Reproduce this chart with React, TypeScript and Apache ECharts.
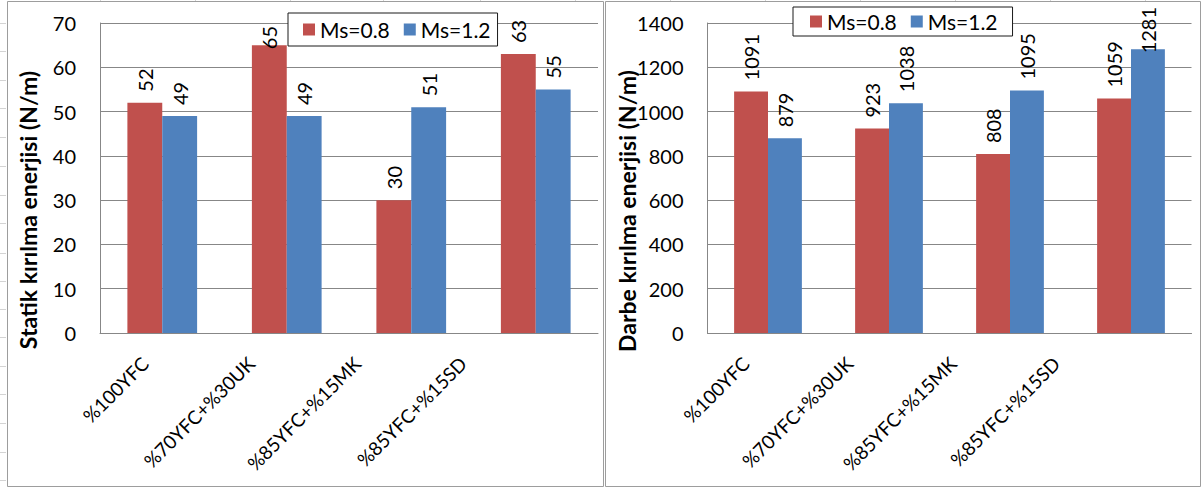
import React, { useEffect, useRef } from "react";
import * as echarts from "echarts";

// Mix designs on the category axis
const categories = ["%100YFC", "%70YFC+%30UK", "%85YFC+%15MK", "%85YFC+%15SD"];
const seriesNames = ["Ms=0.8", "Ms=1.2"];

// Static fracture energy (N/m)
const staticMs08 = [52, 65, 30, 63];
const staticMs12 = [49, 49, 51, 55];

// Impact fracture energy (N/m)
const impactMs08 = [1091, 923, 808, 1059];
const impactMs12 = [879, 1038, 1095, 1281];

// Value axis ranges
const staticAxis = { min: 0, max: 70, interval: 10 };
const impactAxis = { min: 0, max: 1400, interval: 200 };

const titles = ["Statik kırılma enerjisi (N/m)", "Darbe kırılma enerjisi (N/m)"];

const RED = "#C0504D";
const BLUE = "#4F81BD";
const GRID_GRAY = "#878787";
const FRAME_GRAY = "#9d9d9d";
const FONT = "Lato, 'Open Sans', sans-serif";

export default function App() {
  const ref = useRef<HTMLDivElement>(null);

  useEffect(() => {
    if (!ref.current) return;
    const chart = echarts.init(ref.current, undefined, { renderer: "svg" });

    const valueAxis = (gridIndex: number, range: { min: number; max: number; interval: number }) => ({
      type: "value",
      gridIndex,
      ...range,
      axisLine: { show: true, lineStyle: { color: GRID_GRAY, width: 1 } },
      axisTick: { show: false },
      splitLine: { show: true, lineStyle: { color: GRID_GRAY, width: 1 } },
      axisLabel: {
        fontFamily: FONT,
        fontSize: 20,
        color: "#000",
        margin: 24,
        formatter: (v: number) => String(v),
      },
    });

    const barAxis = (gridIndex: number) => ({
      type: "category",
      gridIndex,
      data: categories,
      axisLine: { show: true, lineStyle: { color: GRID_GRAY, width: 1 } },
      axisTick: { show: false },
      axisLabel: { show: false },
    });

    // Category label axes, slightly narrower than the plot so the slanted labels sit as in Excel
    const labelAxis = (gridIndex: number) => ({
      type: "category",
      gridIndex,
      data: categories,
      axisLine: { show: false },
      axisTick: { show: false },
      axisLabel: {
        rotate: 45,
        margin: 27,
        interval: 0,
        fontFamily: FONT,
        fontSize: 19,
        color: "#000",
      },
    });

    const hiddenValue = (gridIndex: number) => ({ type: "value", gridIndex, show: false });

    const dataLabel = {
      show: true,
      position: "top",
      rotate: 90,
      align: "left",
      verticalAlign: "middle",
      distance: 11,
      fontFamily: FONT,
      fontSize: 20,
      color: "#000",
    };

    // Labels of bars that reach the top of the axis are pulled down onto the bar end
    const withFit = (data: number[], max: number) =>
      data.map((v) => (v / max > 0.9 ? { value: v, label: { distance: -4 } } : v));

    const bar = (name: string, data: number[], max: number, axisIndex: number, color: string) => ({
      type: "bar",
      name,
      data: withFit(data, max),
      xAxisIndex: axisIndex,
      yAxisIndex: axisIndex,
      barWidth: "28%",
      barGap: "0%",
      itemStyle: { color },
      label: dataLabel,
    });

    const legend = (left: number, top: number, padding: number[]) => ({
      data: seriesNames,
      left,
      top,
      orient: "horizontal",
      icon: "rect",
      itemWidth: 12,
      itemHeight: 12,
      itemGap: 14,
      padding,
      borderColor: "#1a1a1a",
      borderWidth: 1,
      backgroundColor: "#fff",
      textStyle: { fontFamily: FONT, fontSize: 21, color: "#000" },
    });

    const frameStyle = { fill: "none", stroke: FRAME_GRAY, lineWidth: 1 };
    const sheetLine = { stroke: "#d4d4d4", lineWidth: 1 };
    const sheetCols = [100, 195, 290, 383, 480, 575, 670, 765, 860, 955, 1050, 1145];
    const sheetRows = [23, 51, 80, 108, 137, 166, 195, 223, 253, 281, 309, 337, 366, 394, 423, 452, 480];

    const titleText = (text: string, x: number, y: number) => ({
      type: "text",
      x,
      y,
      rotation: Math.PI / 2,
      style: {
        text,
        align: "center",
        verticalAlign: "middle",
        fontFamily: FONT,
        fontWeight: "bold",
        fontSize: 23,
        fill: "#000",
      },
    });

    chart.setOption({
      animation: false,
      backgroundColor: "#fff",
      grid: [
        { left: 100, top: 23, width: 498, height: 310 },
        { left: 707.5, top: 23, width: 484, height: 310 },
        { left: 92, top: 23, width: 424, height: 310 },
        { left: 694, top: 23, width: 414, height: 310 },
      ],
      xAxis: [barAxis(0), barAxis(1), labelAxis(2), labelAxis(3)],
      yAxis: [valueAxis(0, staticAxis), valueAxis(1, impactAxis), hiddenValue(2), hiddenValue(3)],
      legend: [legend(288, 13, [6, 7, 6, 15]), legend(793, 7, [4, 15, 4, 17])],
      series: [
        bar(seriesNames[0], staticMs08, staticAxis.max, 0, RED),
        bar(seriesNames[1], staticMs12, staticAxis.max, 0, BLUE),
        bar(seriesNames[0], impactMs08, impactAxis.max, 1, RED),
        bar(seriesNames[1], impactMs12, impactAxis.max, 1, BLUE),
      ],
      graphic: [
        ...sheetCols.map((x) => ({
          type: "line",
          shape: { x1: x + 0.5, y1: 0, x2: x + 0.5, y2: 1 },
          style: sheetLine,
          silent: true,
        })),
        ...sheetRows.map((y) => ({
          type: "line",
          shape: { x1: 0, y1: y + 0.5, x2: 6, y2: y + 0.5 },
          style: sheetLine,
          silent: true,
        })),
        { type: "rect", shape: { x: 7.5, y: 1.5, width: 596, height: 485 }, style: frameStyle, silent: true },
        { type: "rect", shape: { x: 605.5, y: 1.5, width: 595, height: 485 }, style: frameStyle, silent: true },
        titleText(titles[0], 28, 210),
        titleText(titles[1], 627, 211),
      ],
    });

    return () => chart.dispose();
  }, []);

  return (
    <div
      ref={ref}
      style={{ position: "fixed", left: 0, top: 0, width: 1202, height: 488, background: "#fff" }}
    />
  );
}
